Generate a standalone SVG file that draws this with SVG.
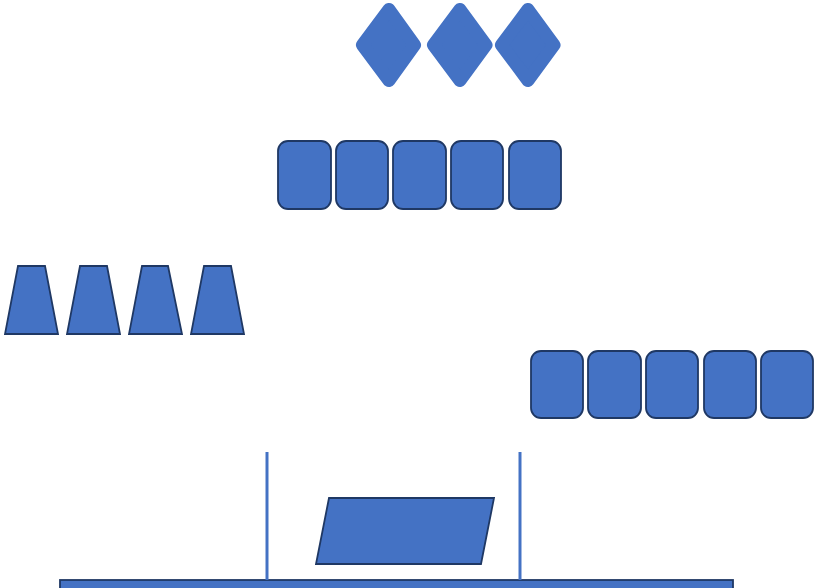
<svg xmlns="http://www.w3.org/2000/svg" width="815" height="588" viewBox="0 0 815 588">
<style>
.f{fill:#4472c4;stroke:#1f3864;stroke-width:1.8}
.d{fill:#4472c4;stroke:#4472c4;stroke-width:13;stroke-linejoin:round}
.c{stroke:#4472c4;stroke-width:3;fill:none}
</style>
<rect width="815" height="588" fill="#fff"/>
<g id="diamond1"><polygon class="d" points="389,9.5 414.5,45 389,80.5 362.5,45"/></g>
<g id="diamond2"><polygon class="d" points="460,9.5 486,45 460,80.5 433.5,45"/></g>
<g id="diamond3"><polygon class="d" points="528,9.5 554,45 528,80.5 501.5,45"/></g>
<g id="r1a"><rect class="f" x="278" y="141" width="53" height="68" rx="10"/></g>
<g id="r1b"><rect class="f" x="336" y="141" width="52" height="68" rx="10"/></g>
<g id="r1c"><rect class="f" x="393" y="141" width="53" height="68" rx="10"/></g>
<g id="r1d"><rect class="f" x="451" y="141" width="52" height="68" rx="10"/></g>
<g id="r1e"><rect class="f" x="509" y="141" width="52" height="68" rx="10"/></g>
<g id="t1"><polygon class="f" points="18,266 45,266 58,334 5,334"/></g>
<g id="t2"><polygon class="f" points="80,266 107,266 120,334 67,334"/></g>
<g id="t3"><polygon class="f" points="142,266 168,266 182,334 129,334"/></g>
<g id="t4"><polygon class="f" points="204,266 231,266 244,334 191,334"/></g>
<g id="r2a"><rect class="f" x="531" y="351" width="52" height="67" rx="10"/></g>
<g id="r2b"><rect class="f" x="588" y="351" width="53" height="67" rx="10"/></g>
<g id="r2c"><rect class="f" x="646" y="351" width="52" height="67" rx="10"/></g>
<g id="r2d"><rect class="f" x="704" y="351" width="52" height="67" rx="10"/></g>
<g id="r2e"><rect class="f" x="761" y="351" width="52" height="67" rx="10"/></g>
<g id="para"><polygon class="f" points="329,498 494,498 481,564 316,564"/></g>
<g id="bar"><rect class="f" x="60" y="580" width="673" height="12"/></g>
<g id="connectors">
<line class="c" x1="267" y1="452" x2="267" y2="580"/>
<line class="c" x1="520" y1="452" x2="520" y2="580"/>
</g>
</svg>
